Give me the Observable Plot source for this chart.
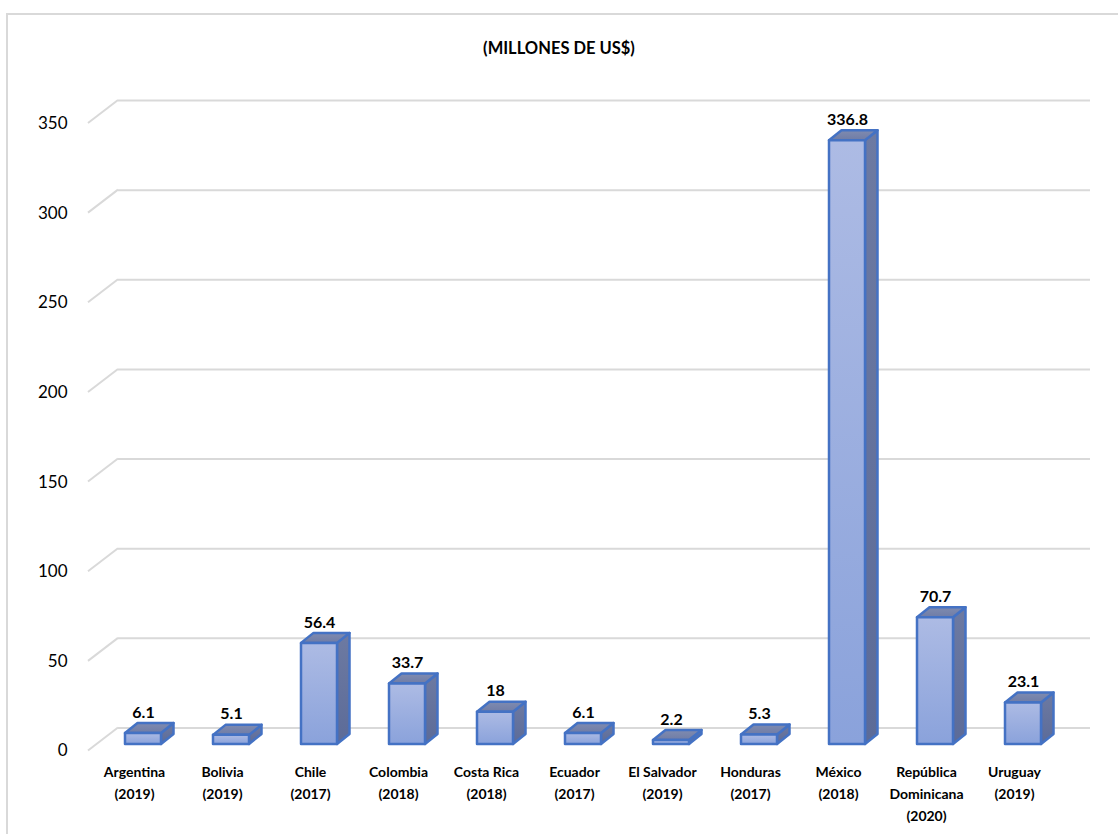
<!DOCTYPE html>
<html>
<head>
<meta charset="utf-8">
<script src="https://cdn.jsdelivr.net/npm/d3@7"></script>
<script src="https://cdn.jsdelivr.net/npm/@observablehq/plot@0.6"></script>
<style>
  html, body { margin: 0; padding: 0; background: #fff; }
  #wrap { position: relative; width: 1118px; height: 834px; overflow: hidden; }
  #frame { position: absolute; left: 6px; top: 13px; width: 1300px; height: 1000px;
           border-left: 2px solid #d9d9d9; border-top: 2px solid #d9d9d9; box-sizing: border-box; }
  #title { position: absolute; left: 0; top: 37px; width: 1118px; text-align: center;
           font: bold 16.5px Lato, "Open Sans", sans-serif; line-height: 22px; color: #000; }
  #chart { position: absolute; left: 0; top: 0; }
</style>
</head>
<body>
<div id="wrap">
  <div id="frame"></div>
  <div id="chart"></div>
  <div id="title"></div>
</div>
<script>
// ---- data ----
const title = "(MILLONES DE US$)";
const categories = ["Argentina", "Bolivia", "Chile", "Colombia", "Costa Rica", "Ecuador",
                    "El Salvador", "Honduras", "México", "República Dominicana", "Uruguay"];
const years = ["2019", "2019", "2017", "2018", "2018", "2017", "2019", "2017", "2018", "2020", "2019"];
const values = [6.1, 5.1, 56.4, 33.7, 18, 6.1, 2.2, 5.3, 336.8, 70.7, 23.1];
const yTicks = [0, 50, 100, 150, 200, 250, 300, 350];

const data = categories.map((c, i) => ({country: c, year: years[i], value: values[i]}));
const tickLabel = (c) => {
  const i = categories.indexOf(c);
  const name = c === "República Dominicana" ? "República\nDominicana" : c;
  return `${name}\n(${years[i]})`;
};

// ---- styling constants ----
const FONT = "Lato, 'Open Sans', sans-serif";
const GRID = "#d9d9d9";
const WALL = {dx: 30, dy: -23};      // depth of the back wall
const PLANE = {dx: 9, dy: -6.5};     // bars sit slightly behind the front plane
const DEPTH = {dx: 12.5, dy: -10};   // bar depth
const BAR_W = 36;
const EDGE = "#4472c4";

function gridDiagonals(index, scales, values, dims) {
  const g = d3.create("svg:g");
  for (const t of yTicks) {
    const y0 = scales.y(t);
    g.append("line")
      .attr("x1", dims.marginLeft).attr("y1", y0)
      .attr("x2", dims.marginLeft + WALL.dx).attr("y2", y0 + WALL.dy)
      .attr("stroke", GRID).attr("stroke-width", 2);
  }
  return g.node();
}

function bars3d(index, scales) {
  const {x, y} = scales;
  const bw = typeof x.bandwidth === "function" ? x.bandwidth() : x.bandwidth;
  const g = d3.create("svg:g");
  const defs = g.append("defs");
  const grad = (id, c1, c2) => {
    const lg = defs.append("linearGradient").attr("id", id)
      .attr("x1", 0).attr("y1", 0).attr("x2", 0).attr("y2", 1);
    lg.append("stop").attr("offset", "0%").attr("stop-color", c1);
    lg.append("stop").attr("offset", "100%").attr("stop-color", c2);
  };
  grad("gFront", "#adbbe4", "#8aa2db");
  grad("gSide", "#6d7aa2", "#5c6b98");
  grad("gTop", "#7f8bb0", "#6f7ca6");
  for (const d of data) {
    const cx = x(d.country) + bw / 2 + PLANE.dx;
    const l = cx - BAR_W / 2, r = cx + BAR_W / 2;
    const yb = y(0) + PLANE.dy, yt = y(d.value) + PLANE.dy;
    const common = (p) => p.attr("stroke", EDGE).attr("stroke-width", 2.5).attr("stroke-linejoin", "round");
    common(g.append("path")
      .attr("d", `M${r},${yb}L${r + DEPTH.dx},${yb + DEPTH.dy}L${r + DEPTH.dx},${yt + DEPTH.dy}L${r},${yt}Z`)
      .attr("fill", "url(#gSide)"));
    common(g.append("path")
      .attr("d", `M${l},${yt}L${l + DEPTH.dx},${yt + DEPTH.dy}L${r + DEPTH.dx},${yt + DEPTH.dy}L${r},${yt}Z`)
      .attr("fill", "url(#gTop)"));
    common(g.append("rect")
      .attr("x", l).attr("y", yt).attr("width", BAR_W).attr("height", Math.max(0, yb - yt))
      .attr("fill", "url(#gFront)"));
  }
  return g.node();
}

const chart = Plot.plot({
  width: 1118,
  height: 834,
  marginLeft: 88,
  marginRight: 58,
  marginTop: 123,
  marginBottom: 83.5,
  style: {fontFamily: FONT, color: "#000", background: "transparent", overflow: "visible"},
  x: {type: "band", domain: categories, padding: 0},
  y: {type: "linear", domain: [0, 350]},
  marks: [
    Plot.ruleY(yTicks, {dx: WALL.dx, dy: WALL.dy, stroke: GRID, strokeWidth: 2}),
    gridDiagonals,
    Plot.axisY({ticks: yTicks, tickSize: 0, tickPadding: 21, fontSize: 17, fill: "#000",
                label: null, tickFormat: (d) => String(d)}),
    Plot.axisX({tickSize: 0, tickPadding: 11, fontSize: 14, fontWeight: "bold", fill: "#000",
                label: null, lineHeight: 1.55, tickFormat: tickLabel}),
    bars3d,
    Plot.text(data, {x: "country", y: "value", text: (d) => String(d.value),
                     dx: PLANE.dx, dy: -27.5, fontSize: 16, fontWeight: "bold", fill: "#000"})
  ]
});
document.getElementById("chart").appendChild(chart);
document.getElementById("title").textContent = title;
</script>
</body>
</html>
